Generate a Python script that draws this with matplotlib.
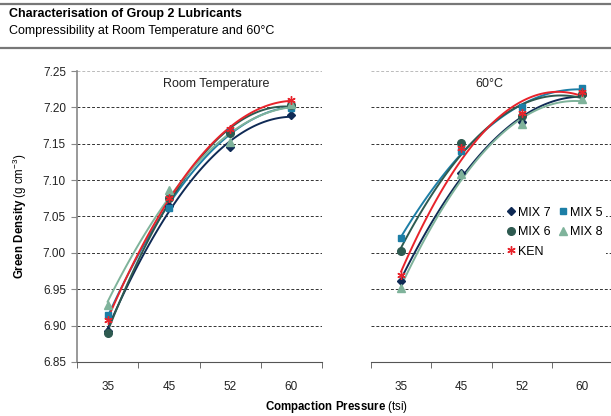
import numpy as np
import matplotlib
matplotlib.use("Agg")
from matplotlib import pyplot as plt
from matplotlib.lines import Line2D

# compaction pressure categories (tsi)
pressures = ["35", "45", "52", "60"]

# green density, room temperature
rt_mix7 = [6.893, 7.065, 7.145, 7.190]
rt_mix5 = [6.914, 7.062, 7.168, 7.199]
rt_mix6 = [6.890, 7.075, 7.165, 7.203]
rt_mix8 = [6.929, 7.087, 7.153, 7.204]
rt_ken = [6.908, 7.076, 7.170, 7.210]

# green density, 60 C
hot_mix7 = [6.962, 7.110, 7.180, 7.217]
hot_mix5 = [7.021, 7.140, 7.200, 7.226]
hot_mix6 = [7.002, 7.151, 7.188, 7.218]
hot_mix8 = [6.952, 7.108, 7.177, 7.211]
hot_ken = [6.969, 7.144, 7.192, 7.221]

names = ["MIX 7", "MIX 5", "MIX 6", "MIX 8", "KEN"]
colors = ["#0f2a55", "#1c7ea6", "#2e5a50", "#7fb39b", "#e8232b"]
markers = ["D", "s", "o", "^", (6, 2, 0)]
msizes = [4, 5, 5.5, 5.5, 6]

plt.rcParams['font.family'] = ['Liberation Sans', 'DejaVu Sans']
plt.rcParams['mathtext.fontset'] = 'custom'
plt.rcParams['mathtext.rm'] = 'Liberation Sans'
plt.rcParams['mathtext.bf'] = 'Liberation Sans:bold'

fig = plt.figure(figsize=(6.11, 4.16), dpi=100)

# header rules and title
fig.add_artist(Line2D([0, 1], [1 - 4/416, 1 - 4/416], color="#777777", lw=1.6))
fig.add_artist(Line2D([0, 1], [1 - 48/416, 1 - 48/416], color="#777777", lw=1.6))
fig.text(9/611, 1 - 14/416, "Characterisation of Group 2 Lubricants",
         fontsize=9, fontweight="bold", va="center")
fig.text(9/611, 1 - 31/416, "Compressibility at Room Temperature and 60\u00b0C",
         fontsize=9, va="center")

ax1 = fig.add_axes([77/611, 54/416, 245/611, 291/416])
ax2 = fig.add_axes([371/611, 54/416, 241/611, 291/416])

x = np.arange(1, 5)
xs = np.linspace(1, 4, 100)


def draw(ax, series, label_txt, lx):
    for vals, c, m, ms, nm in zip(series, colors, markers, msizes, names):
        p = np.polyfit(x, vals, 2)
        ax.plot(xs, np.polyval(p, xs), color=c, lw=1.4, zorder=3)
        ax.plot(x, vals, ls="none", marker=m, ms=ms, color=c, mec=c,
                mew=1.0, zorder=4, label=nm)
    ax.set_xlim(0.5, 4.5)
    ax.set_ylim(6.85, 7.25)
    for yv in np.arange(6.90, 7.21, 0.05):
        ax.axhline(yv, color="#333333", lw=0.7, ls=(0, (3, 2)), zorder=1)
    ax.axhline(7.25, color="#bbbbbb", lw=0.7, ls=(0, (3, 2)), zorder=1)
    ax.set_xticks(x)
    ax.set_xticklabels(pressures, fontsize=8.5, color="#222222")
    ax.set_xticks(np.arange(0.5, 4.6, 1), minor=True)
    ax.tick_params(axis="x", which="major", length=0, pad=14)
    ax.tick_params(axis="x", which="minor", length=4, color="#555555", direction="out")
    for s in ["top", "right"]:
        ax.spines[s].set_visible(False)
    ax.spines["bottom"].set_color("#555555")
    ax.text(lx, 7.232, label_txt, fontsize=9, ha="center", va="center", color="#222222")


draw(ax1, [rt_mix7, rt_mix5, rt_mix6, rt_mix8, rt_ken], "Room Temperature", 2.77)
draw(ax2, [hot_mix7, hot_mix5, hot_mix6, hot_mix8, hot_ken], "60\u00b0C", 2.47)

ax1.set_yticks(np.arange(6.85, 7.26, 0.05))
ax1.set_yticklabels(["%.2f" % v for v in np.arange(6.85, 7.26, 0.05)],
                    fontsize=8.5, color="#222222")
ax1.tick_params(axis="y", length=4, color="#888888", pad=4)
ax1.spines["left"].set_color("#888888")
ax1.spines["left"].set_linewidth(1.2)

ax2.spines["left"].set_visible(False)
ax2.set_yticks([])

h, l = ax2.get_legend_handles_labels()
order = [0, 2, 4, 1, 3]
leg = ax2.legend([h[i] for i in order], [l[i] for i in order], ncol=2,
                 loc="upper left", bbox_to_anchor=(504/611, 1 - 203/416),
                 bbox_transform=fig.transFigure, fontsize=9, frameon=True,
                 facecolor="white", edgecolor="none", framealpha=1,
                 handlelength=0.5, handletextpad=0.3, columnspacing=0.75,
                 labelspacing=0.6, borderpad=0.3, borderaxespad=0)
leg.set_zorder(5)

fig.text(20/611, 1 - 216/416, r"$\bf{Green\ Density}$ (g cm$^{-3}$)",
         rotation=90, fontsize=8.3, ha="center", va="center")
fig.text(337/611, 1 - 407/416, r"$\bf{Compaction\ Pressure}$ (tsi)",
         fontsize=8.3, ha="center", va="center")

fig.savefig("out.png", dpi=100)
